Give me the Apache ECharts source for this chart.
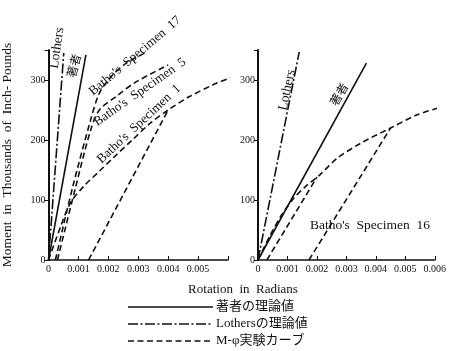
<!DOCTYPE html>
<html>
<head>
<meta charset="utf-8">
<script src="https://cdn.jsdelivr.net/npm/echarts@6/dist/echarts.min.js"></script>
<style>
  html, body { margin: 0; padding: 0; background: #fff; }
  #chart { width: 449px; height: 351px; }
</style>
</head>
<body>
<div id="chart"></div>
<script>
// Moment (thousand in-lb) vs rotation (rad): theory lines and Batho's M-φ test curves

const yTicks = [0, 100, 200, 300];
const xTicksLeft = ['0', '0.001', '0.002', '0.003', '0.004', '0.005'];
const xTicksRight = ['0', '0.001', '0.002', '0.003', '0.004', '0.005', '0.006'];

// left panel: specimens 17, 5, 1
const leftAuthor = [[0, 0], [0.00125, 342]];
const leftLothers = [[0, 0], [0.00051, 345]];
const spec17 = [[0.00023, 0], [0.0008, 120], [0.0014, 232], [0.0017, 278], [0.0021, 306], [0.0026, 328], [0.0033, 347]];
const spec5 = [[0.0003, 0], [0.0009, 120], [0.0014, 215], [0.0017, 250], [0.0023, 274], [0.0029, 296], [0.0040, 325]];
const spec1Load = [[0, 0], [0.0004, 55], [0.00073, 95], [0.0012, 124], [0.0017, 148], [0.0022, 172], [0.0028, 200], [0.0034, 228], [0.0040, 250], [0.0047, 272], [0.0055, 292], [0.0061, 304]];
const spec1Unload = [[0.00134, 0], [0.0040, 250]];

// right panel: specimen 16
const rightAuthor = [[0, 0], [0.00368, 328]];
const rightLothers = [[0, 0], [0.0014, 347]];
const spec16Load = [[0, 0], [0.0004, 40], [0.0008, 75], [0.0012, 102], [0.0016, 122], [0.0021, 142], [0.0027, 170], [0.0035, 195], [0.0045, 220], [0.0054, 242], [0.0061, 253]];
const spec16Reload = [[0.0003, 0], [0.0020, 138]];
const spec16Unload = [[0.00173, 0], [0.0045, 220]];

const legendNames = ['著者の理論値', 'Lothersの理論値', 'M-φ実験カーブ'];

const FONT = '"Liberation Serif", "Noto Sans CJK JP", serif';
const INK = '#111';

const solidStyle = { color: INK, width: 1.6, type: 'solid' };
const dashDotStyle = { color: INK, width: 1.6, type: [10, 2.5, 2, 2.5] };
const dashStyle = { color: INK, width: 1.6, type: [6, 3.5] };
const legendStyles = [solidStyle, dashDotStyle, dashStyle];

function line(name, data, style, gridIdx, smooth) {
  return {
    type: 'line', name, data,
    xAxisIndex: gridIdx, yAxisIndex: gridIdx,
    showSymbol: false, symbol: 'none',
    smooth: smooth ? 0.3 : false,
    clip: false,
    lineStyle: style, itemStyle: { color: INK },
    silent: true, animation: false
  };
}

function xAxis(gridIdx, labels) {
  return {
    type: 'value', gridIndex: gridIdx, min: 0, max: 0.006, interval: 0.001,
    axisLine: { lineStyle: { color: INK, width: 1.5 } },
    axisTick: { inside: true, length: 4, lineStyle: { color: INK } },
    splitLine: { show: false },
    axisLabel: {
      color: INK, fontFamily: FONT, fontSize: 10, margin: 4,
      formatter: v => {
        const i = Math.round(v / 0.001);
        return labels[i] !== undefined ? labels[i] : '';
      }
    }
  };
}

function yAxis(gridIdx, withName) {
  return {
    type: 'value', gridIndex: gridIdx, min: 0, max: 350, interval: 100,
    axisLine: { show: true, lineStyle: { color: INK, width: 2 } },
    axisTick: { show: true, length: 4, lineStyle: { color: INK } },
    splitLine: { show: false },
    axisLabel: {
      color: INK, fontFamily: FONT, fontSize: 10, margin: 3,
      formatter: v => (yTicks.indexOf(v) >= 0 ? String(v) : '')
    },
    name: withName ? 'Moment  in  Thousands  of  Inch- Pounds' : '',
    nameLocation: 'middle', nameRotate: 90, nameGap: 34,
    nameTextStyle: { color: INK, fontFamily: FONT, fontSize: 13.5 }
  };
}

function label(text, x, y, deg, size) {
  return {
    type: 'text', x, y, rotation: deg * Math.PI / 180, silent: true,
    style: {
      text, fill: INK, font: (size || 12.5) + 'px ' + FONT,
      align: 'center', verticalAlign: 'middle'
    }
  };
}

// legend key: a line sample and its caption per row
const legendGraphics = [];
legendNames.forEach((name, i) => {
  const y = 307 + i * 17;
  const st = legendStyles[i];
  legendGraphics.push({
    type: 'line', silent: true,
    shape: { x1: 128, y1: y, x2: 213, y2: y },
    style: { stroke: INK, lineWidth: 1.6, lineDash: st.type === 'solid' ? null : st.type }
  });
  legendGraphics.push({
    type: 'text', x: 216, y: y, silent: true,
    style: { text: name, fill: INK, font: '13px ' + FONT, align: 'left', verticalAlign: 'middle' }
  });
});

const chart = echarts.init(document.getElementById('chart'), null, { renderer: 'canvas' });
chart.setOption({
  backgroundColor: '#fff',
  animation: false,
  grid: [
    { left: 48, top: 50, width: 180, height: 210 },
    { left: 258, top: 50, width: 180, height: 210 }
  ],
  xAxis: [xAxis(0, xTicksLeft), xAxis(1, xTicksRight)],
  yAxis: [yAxis(0, true), yAxis(1, false)],
  series: [
    line(legendNames[0], leftAuthor, solidStyle, 0),
    line(legendNames[1], leftLothers, dashDotStyle, 0),
    line(legendNames[2], spec17, dashStyle, 0, true),
    line(legendNames[2], spec5, dashStyle, 0, true),
    line(legendNames[2], spec1Load, dashStyle, 0, true),
    line(legendNames[2], spec1Unload, dashStyle, 0),
    line(legendNames[0], rightAuthor, solidStyle, 1),
    line(legendNames[1], rightLothers, dashDotStyle, 1),
    line(legendNames[2], spec16Load, dashStyle, 1, true),
    line(legendNames[2], spec16Reload, dashStyle, 1),
    line(legendNames[2], spec16Unload, dashStyle, 1)
  ],
  graphic: [
    label('Lothers', 57, 48, 82, 13.5),
    label('著者', 75, 66, 75, 12),
    label("Batho's  Specimen  17", 135, 56, 40, 13),
    label("Batho's  Specimen  5", 140, 92, 35, 13),
    label("Batho's  Specimen  1", 139, 124, 43, 13),
    label('Lothers', 287, 90, 78, 13.5),
    label('著者', 340, 95, 60, 12),
    label("Batho's  Specimen  16", 370, 225, 0, 13.5),
    label('Rotation  in  Radians', 243, 290, 0, 13)
  ].concat(legendGraphics)
});
</script>
</body>
</html>
